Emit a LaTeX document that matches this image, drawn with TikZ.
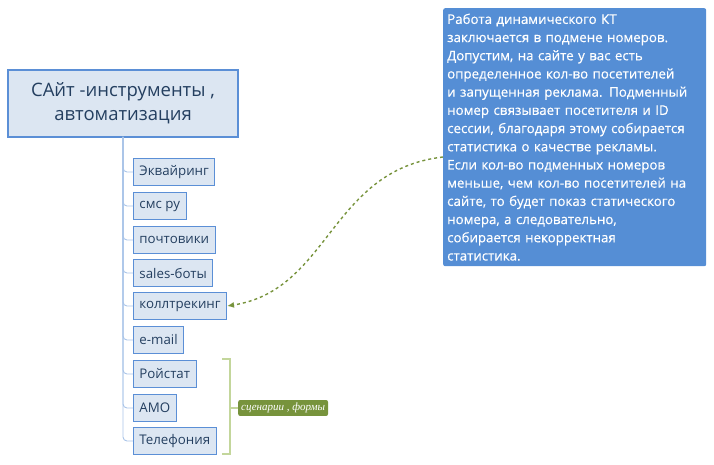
\documentclass[tikz,border=0pt]{standalone}
\usepackage{fontspec}
\setmainfont{Open Sans}
\newfontfamily\ser{Liberation Serif}
\newfontfamily\callfont[FakeBold=0.4]{Open Sans}
\usetikzlibrary{arrows.meta}
\definecolor{bfill}{HTML}{DCE6F2}
\definecolor{bline}{HTML}{5B8FD6}
\definecolor{tline}{HTML}{A9C4E8}
\definecolor{callout}{HTML}{558ED5}
\definecolor{gdark}{HTML}{77933C}
\definecolor{glight}{HTML}{C3D69B}
\definecolor{txt}{HTML}{243F60}
\begin{document}
\begin{tikzpicture}[x=1pt,y=-1pt,
 child/.style={draw=bline,fill=bfill,line width=0.9pt,anchor=west,minimum height=27pt,inner xsep=6pt,font=\fontsize{13.3}{15}\selectfont,text=txt},
 tick/.style={draw=tline,line width=0.9pt,rounded corners=4pt}]
\useasboundingbox (0,0) rectangle (714,465);
\node[draw=bline,fill=bfill,line width=1.8pt,minimum width=230pt,minimum height=67pt,align=center,text=txt,font=\fontsize{18.5}{24}\selectfont] (root) at (123,103.5) {САйт -инструменты ,\\автоматизация};
\foreach \n/\t/\y in {a/Эквайринг/172,b/смс ру/206,c/почтовики/240,d/sales-боты/273,e/коллтрекинг/306,f/e-mail/340,g/Ройстат/374,h/АМО/408,i/Телефония/441}{
  \node[child] (\n) at (133,\y) {\t};
  \draw[tick] (123,137) -- (123,\y) -- (\n.west);
}
\node[fill=callout,rounded corners=2pt,text=white,anchor=north west,minimum width=263pt,minimum height=258pt,align=left,text width=255pt,inner xsep=4pt,inner ysep=5pt,font=\callfont\fontsize{13.3}{18.2}\selectfont] (call) at (443,8) {Работа динамического КТ\\заключается в подмене номеров.\\Допустим, на сайте у вас есть\\определенное кол-во посетителей\\и запущенная реклама. Подменный\\номер связывает посетителя и ID\\сессии, благодаря этому собирается\\статистика о качестве рекламы.\\Если кол-во подменных номеров\\меньше, чем кол-во посетителей на\\сайте, то будет показ статического\\номера, а следовательно,\\собирается некорректная\\статистика.};
\coordinate (cs) at (443,157);
\draw[gdark,dashed,line width=1.4pt,-{Latex[length=7pt,width=6pt]}] (cs) .. controls (330,170) and (330,290) .. (e.east);
\draw[glight,line width=1.8pt] (222,359) -- (230,359) -- (230,454) -- (222,454);
\coordinate (bm) at (230,408);
\node[fill=gdark,rounded corners=2pt,text=white,font=\ser\itshape\fontsize{11}{13}\selectfont,inner sep=3pt,anchor=west] (lab) at (238,408) {сценарии , формы};
\draw[glight,line width=1.8pt] (bm) -- (lab.west);
\end{tikzpicture}
\end{document}
